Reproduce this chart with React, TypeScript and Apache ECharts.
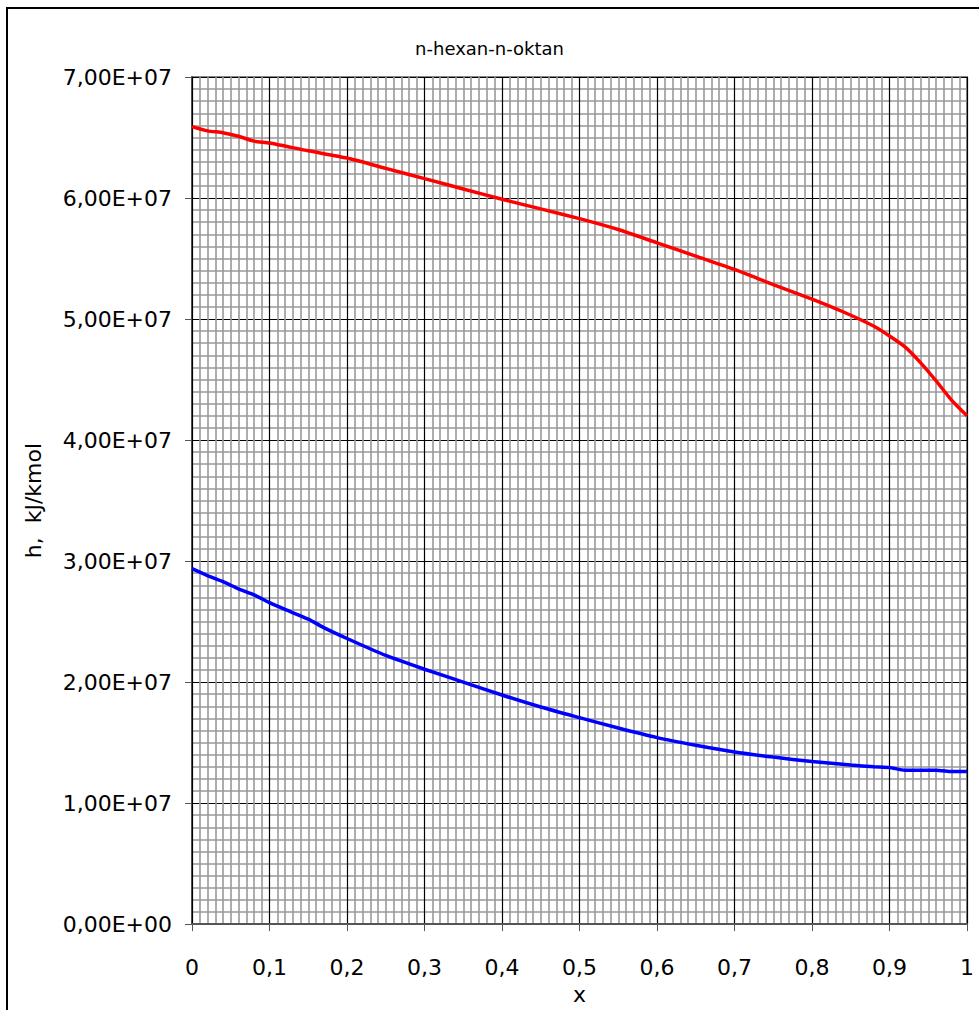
import React, { useEffect, useRef } from "react";
import * as echarts from "echarts";

const titleText = "n-hexan-n-oktan";
const xName = "x";
const yName = "h,  kJ/kmol";

const vaporX = [0, 0.02, 0.04, 0.06, 0.08, 0.1, 0.15, 0.2, 0.25, 0.3, 0.35, 0.4, 0.45, 0.5, 0.55, 0.6, 0.65, 0.7, 0.75, 0.8, 0.84, 0.88, 0.9, 0.92, 0.94, 0.96, 0.98, 1.0];
const vaporH = [6.59e7, 6.555e7, 6.54e7, 6.51e7, 6.47e7, 6.455e7, 6.39e7, 6.33e7, 6.245e7, 6.16e7, 6.075e7, 5.99e7, 5.91e7, 5.83e7, 5.74e7, 5.63e7, 5.52e7, 5.41e7, 5.285e7, 5.165e7, 5.06e7, 4.94e7, 4.86e7, 4.77e7, 4.64e7, 4.49e7, 4.33e7, 4.2e7];

const liquidX = [0, 0.02, 0.04, 0.06, 0.08, 0.1, 0.12, 0.15, 0.17, 0.2, 0.25, 0.3, 0.35, 0.4, 0.45, 0.5, 0.55, 0.6, 0.65, 0.7, 0.75, 0.8, 0.85, 0.88, 0.9, 0.92, 0.96, 0.98, 1.0];
const liquidH = [2.937e7, 2.88e7, 2.83e7, 2.77e7, 2.72e7, 2.656e7, 2.6e7, 2.52e7, 2.45e7, 2.36e7, 2.22e7, 2.106e7, 2.0e7, 1.893e7, 1.794e7, 1.706e7, 1.62e7, 1.541e7, 1.478e7, 1.422e7, 1.38e7, 1.343e7, 1.315e7, 1.3e7, 1.294e7, 1.272e7, 1.272e7, 1.261e7, 1.26e7];

const FONT = "DejaVu Sans";

export default function App() {
  const ref = useRef<HTMLDivElement>(null);
  useEffect(() => {
    if (!ref.current) return;
    const chart = echarts.init(ref.current, undefined, { renderer: "svg" });
    chart.setOption({
      animation: false,
      backgroundColor: "#ffffff",
      title: {
        text: titleText,
        left: "center",
        top: 34,
        textStyle: { fontFamily: FONT, fontSize: 18, fontWeight: "normal", color: "#000" },
      },
      graphic: [
        {
          type: "rect",
          shape: { x: 7, y: 8, width: 1100, height: 1100 },
          style: { fill: "none", stroke: "#000", lineWidth: 2 },
          silent: true,
        },
      ],
      grid: {
        left: 192,
        top: 77,
        right: 12,
        bottom: 85,
        show: true,
        borderColor: "#888",
        borderWidth: 2,
        backgroundColor: "transparent",
      },
      xAxis: {
        type: "value",
        min: 0,
        max: 1,
        interval: 0.1,
        z: 1,
        name: xName,
        nameLocation: "middle",
        nameGap: 52,
        nameTextStyle: { fontFamily: FONT, fontSize: 22, color: "#000" },
        axisLine: { show: true, onZero: false, lineStyle: { color: "#555", width: 2 } },
        axisTick: { show: true, length: 7, lineStyle: { color: "#555", width: 1 } },
        axisLabel: {
          margin: 32,
          fontFamily: FONT,
          fontSize: 22,
          color: "#000",
          formatter: (v: number) => String(Math.round(v * 10) / 10).replace(".", ","),
        },
        splitLine: { show: true, lineStyle: { color: "#000", width: 1.2 } },
        minorTick: { show: false, splitNumber: 10 },
        minorSplitLine: { show: true, lineStyle: { color: "#999", width: 1.6 } },
      },
      yAxis: {
        type: "value",
        min: 0,
        max: 7e7,
        interval: 1e7,
        z: 0,
        name: yName,
        nameLocation: "middle",
        nameGap: 148,
        nameRotate: 90,
        nameTextStyle: { fontFamily: FONT, fontSize: 22, color: "#000" },
        axisLine: { show: true, lineStyle: { color: "#555", width: 2 } },
        axisTick: { show: true, length: 7, lineStyle: { color: "#555", width: 1 } },
        axisLabel: {
          margin: 20,
          fontFamily: FONT,
          fontSize: 22,
          color: "#000",
          formatter: (v: number) =>
            v === 0 ? "0,00E+00" : (v / 1e7).toFixed(2).replace(".", ",") + "E+07",
        },
        splitLine: { show: true, lineStyle: { color: "#000", width: 1.2 } },
        minorTick: { show: false, splitNumber: 10 },
        minorSplitLine: { show: true, lineStyle: { color: "#999", width: 1.6 } },
      },
      series: [
        {
          type: "line",
          name: "vapor",
          data: vaporX.map((x, i) => [x, vaporH[i]]),
          showSymbol: false,
          smooth: 0.2,
          z: 5,
          lineStyle: { color: "#ff0000", width: 3.5 },
        },
        {
          type: "line",
          name: "liquid",
          data: liquidX.map((x, i) => [x, liquidH[i]]),
          showSymbol: false,
          smooth: 0.2,
          z: 5,
          lineStyle: { color: "#0000ff", width: 3.5 },
        },
      ],
    });
    return () => chart.dispose();
  }, []);
  return (
    <div
      ref={ref}
      style={{ position: "fixed", left: 0, top: 0, width: 979, height: 1010, background: "#fff" }}
    />
  );
}
